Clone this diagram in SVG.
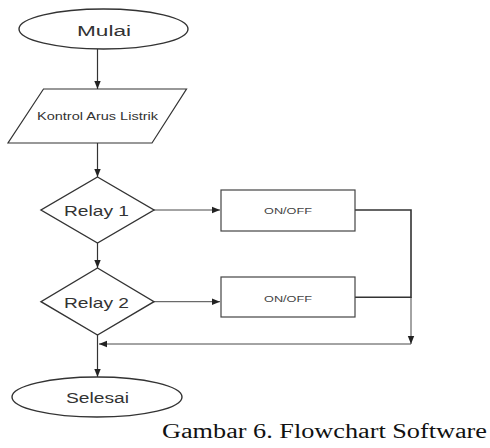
<svg xmlns="http://www.w3.org/2000/svg" width="490" height="448" viewBox="0 0 490 448">
<style>
.sh{fill:#fff;stroke:#333;stroke-width:1.4}
.bx{fill:#fff;stroke:#444;stroke-width:1.2}
.ln{fill:none;stroke:#333;stroke-width:1.2}
.tx{font-family:"Liberation Sans",Arial,sans-serif;fill:#333;text-anchor:middle}
.cap{font-family:"Liberation Serif","Times New Roman",serif;fill:#111}
</style>
<defs>
<marker id="ah" markerUnits="userSpaceOnUse" markerWidth="8" markerHeight="8" viewBox="0 0 8 8" refX="8" refY="4" orient="auto">
<path d="M0,0.8 L8,4 L0,7.2 Z" fill="#222"/>
</marker>
</defs>
<rect width="490" height="448" fill="#fff"/>
<g id="connectors">
<line class="ln" x1="97.5" y1="49" x2="97.5" y2="89" marker-end="url(#ah)"/>
<line class="ln" x1="97.5" y1="143" x2="97.5" y2="177" marker-end="url(#ah)"/>
<line class="ln" x1="97.5" y1="243" x2="97.5" y2="268" marker-end="url(#ah)"/>
<line class="ln" x1="154" y1="210" x2="220" y2="210" marker-end="url(#ah)" style="stroke-width:0.9"/>
<line class="ln" x1="154" y1="301.7" x2="220" y2="301.7" marker-end="url(#ah)" style="stroke-width:0.9"/>
<polyline class="ln" points="355,210 411,210 411,297.3 355,297.3" style="stroke-width:1.6"/>
<line class="ln" x1="411" y1="297" x2="411" y2="344" marker-end="url(#ah)" style="stroke-width:0.9"/>
<line class="ln" x1="411" y1="344" x2="99" y2="344" marker-end="url(#ah)" style="stroke-width:0.9"/>
<line class="ln" x1="97.5" y1="335" x2="97.5" y2="377" marker-end="url(#ah)"/>
</g>
<g id="mulai">
<ellipse class="sh" cx="103.5" cy="29" rx="84.5" ry="20"/>
<text class="tx" x="104" y="35.5" font-size="15.5" textLength="54" lengthAdjust="spacingAndGlyphs">Mulai</text>
</g>
<g id="kontrol">
<polygon class="sh" points="43.5,89 186.5,89 152,143 8,143" style="stroke-width:1.2"/>
<text class="tx" x="97.5" y="119.5" font-size="10" textLength="121" lengthAdjust="spacingAndGlyphs">Kontrol Arus Listrik</text>
</g>
<g id="relay1">
<polygon class="sh" points="97.5,177 154,210 97.5,243 41,210"/>
<text class="tx" x="96.5" y="215.5" font-size="14.5" textLength="65" lengthAdjust="spacingAndGlyphs">Relay 1</text>
</g>
<g id="onoff1">
<rect class="bx" x="221" y="190" width="134" height="41"/>
<text class="tx" x="288" y="214" font-size="9.5" textLength="48" lengthAdjust="spacingAndGlyphs" style="fill:#444">ON/OFF</text>
</g>
<g id="relay2">
<polygon class="sh" points="97.5,268 154,301.7 97.5,335 41,301.7"/>
<text class="tx" x="96.5" y="307.5" font-size="14.5" textLength="65" lengthAdjust="spacingAndGlyphs">Relay 2</text>
</g>
<g id="onoff2">
<rect class="bx" x="221" y="277" width="134" height="40"/>
<text class="tx" x="288" y="301.5" font-size="9.5" textLength="48" lengthAdjust="spacingAndGlyphs" style="fill:#444">ON/OFF</text>
</g>
<g id="selesai">
<ellipse class="sh" cx="97" cy="397" rx="85" ry="20"/>
<text class="tx" x="97.5" y="402.5" font-size="14" textLength="63" lengthAdjust="spacingAndGlyphs">Selesai</text>
</g>
<text class="cap" x="162" y="438" font-size="20" textLength="325" lengthAdjust="spacingAndGlyphs">Gambar 6. Flowchart Software</text>
</svg>
